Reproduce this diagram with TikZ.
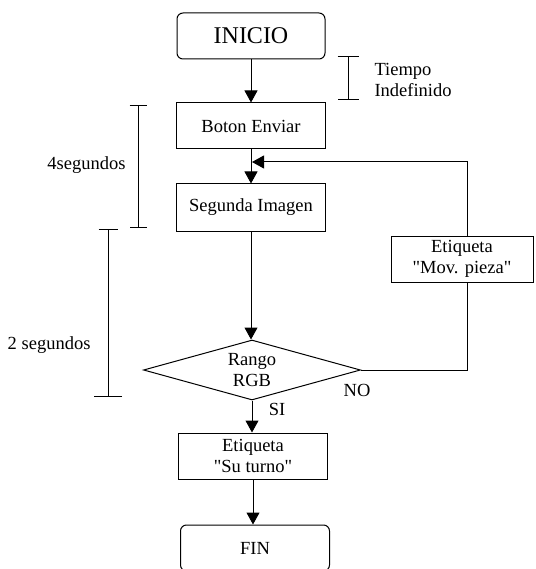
\documentclass[tikz,border=0pt]{standalone}
\usepackage{fontspec}
\setmainfont{Liberation Serif}[Ligatures=TeXOff]
\usetikzlibrary{shapes.geometric,arrows.meta,positioning,calc}

\begin{document}
\begin{tikzpicture}[x=1pt,y=-1pt,
        every node/.style={font=\fontsize{18.5}{21}\selectfont},
        box/.style={draw, line width=1pt, minimum width=149pt, minimum height=46pt, inner sep=0pt, align=center},
        term/.style={box, rounded corners=6pt},
        decision/.style={draw, diamond, line width=1pt, minimum width=217pt, minimum height=60pt, shape aspect=3.6, inner sep=0pt, align=center},
        flow/.style={line width=1pt, -{Triangle[width=13pt,length=12pt]}},
        plain/.style={line width=1pt},
        interval/.style n args={2}{line width=1pt, {Bar[width=#1]}-{Bar[width=#2]}}]
        \useasboundingbox (0,0) rectangle (535,569);
        \clip (0,0) rectangle (535,569);

        % main column
        \node[term, font=\fontsize{24}{26}\selectfont, minimum width=148pt] (inicio) at (251,36) {INICIO};
        \node[box] (boton) at (251,126) {Boton Enviar};
        \node[box, minimum height=47pt] (segunda) at (251,207.5) {Segunda Imagen};
        \node[decision] (rgb) at (252,370) {Rango\\RGB};
        \node[box] (turno) at (253,456) {Etiqueta\\"Su turno"};
        \node[term] (fin) at (255,548) {FIN};
        \node[box, minimum width=142pt] (mov) at (462,259) {Etiqueta\\"Mov. pieza"};

        \draw[flow] (inicio.south) -- (inicio.south |- boton.north);
        \draw[flow] (boton.south) -- (boton.south |- segunda.north);
        \draw[flow] (segunda.south) -- (segunda.south |- rgb.north);
        \draw[flow] (rgb.south) -- (rgb.south |- turno.north);
        \draw[flow] (turno.south) -- (turno.south |- fin.north);

        % loop back
        \coordinate (merge) at (252,162);
        \draw[plain] (rgb.east) -| ([xshift=5pt]mov.south);
        \draw[flow] ([xshift=5pt]mov.north) |- (merge);
        \node (no) at (357,390) {NO};
        \node (si) at (277,409) {SI};

        % times
        \coordinate (t1) at (348,56);
        \coordinate (t2) at (348,100);
        \draw[interval={21pt}{21pt}] (t1) -- (t2);
        \node[anchor=west, align=left] (tiempo) at (371,80) {Tiempo\\Indefinido};

        \coordinate (c1) at (138,105);
        \coordinate (c2) at (138,228);
        \draw[interval={17pt}{17pt}] (c1) -- (c2);
        \node[anchor=east] (cuatro) at (129,165) {4segundos};

        \coordinate (d1) at (108,229);
        \coordinate (d2) at (108,397);
        \draw[interval={19pt}{28pt}] (d1) -- (d2);
        \node[anchor=east] (dos) at (94,345) {2 segundos};
    \end{tikzpicture}
\end{document}
